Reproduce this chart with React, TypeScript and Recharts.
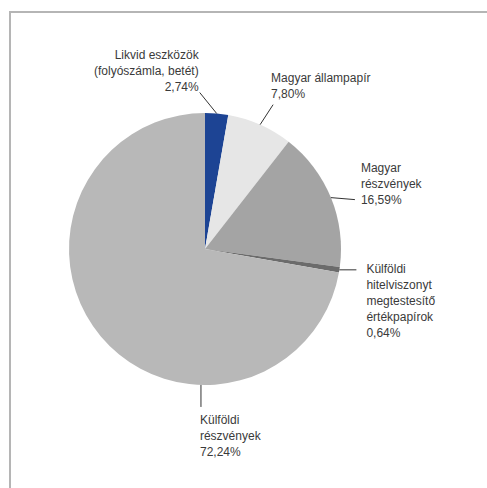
import { PieChart, Pie, Cell } from "recharts";

const names = [
  "Likvid eszközök (folyószámla, betét)",
  "Magyar állampapír",
  "Magyar részvények",
  "Külföldi hitelviszonyt megtestesítő értékpapírok",
  "Külföldi részvények",
];
const values = [2.74, 7.8, 16.59, 0.64, 72.24];
const labelLines = [
  ["Likvid eszközök", "(folyószámla, betét)"],
  ["Magyar állampapír"],
  ["Magyar", "részvények"],
  ["Külföldi", "hitelviszonyt", "megtestesítő", "értékpapírok"],
  ["Külföldi", "részvények"],
];
const COLORS = ["#1d4494", "#e6e6e6", "#a4a4a4", "#6b6b6b", "#b8b8b8"];

// leader line + text placement per slice (relative to the slice edge)
const LAYOUT = [
  { angle: null, ldx: -17, ldy: -21, tdx: -1, tdy: -38, anchor: "end" },
  { angle: null, ldx: 13, ldy: -20, tdx: -2, tdy: -27, anchor: "start" },
  { angle: null, ldx: 24, ldy: 2, tdx: 6, tdy: -32, anchor: "start" },
  { angle: null, ldx: 17, ldy: 0, tdx: 10, tdy: -1, anchor: "start" },
  { angle: 268.3, ldx: 0, ldy: 22, tdx: -1, tdy: 13, anchor: "start" },
];

const data = names.map((name, i) => ({ name, value: values[i] }));
const RADIAN = Math.PI / 180;
const LINE_H = 16;

function renderLabel(props: any) {
  const { cx, cy, midAngle, outerRadius, index } = props;
  const lay = LAYOUT[index];
  const ang = lay.angle ?? midAngle;
  const x0 = cx + outerRadius * Math.cos(-ang * RADIAN);
  const y0 = cy + outerRadius * Math.sin(-ang * RADIAN);
  const x1 = x0 + lay.ldx;
  const y1 = y0 + lay.ldy;
  const lines = [...labelLines[index], values[index].toFixed(2).replace(".", ",") + "%"];
  return (
    <g key={`lbl-${index}`}>
      <line x1={x0} y1={y0} x2={x1} y2={y1} stroke="#333" strokeWidth={1} />
      {lines.map((t, j) => (
        <text
          key={j}
          x={x1 + lay.tdx}
          y={y1 + lay.tdy + j * LINE_H}
          textAnchor={lay.anchor as any}
          dominantBaseline="central"
          fontSize={12}
          fontFamily="'Liberation Sans', Arial, sans-serif"
          fill="#3a3a3a"
        >
          {t}
        </text>
      ))}
    </g>
  );
}

export default function App() {
  return (
    <div style={{ position: "absolute", left: 0, top: 0, width: 487, height: 488, background: "#fff" }}>
      <div
        style={{
          position: "absolute",
          left: 9,
          top: 11,
          width: 490,
          height: 490,
          borderTop: "2px solid #b5b5b5",
          borderLeft: "2px solid #b5b5b5",
        }}
      />
      <PieChart
        width={487}
        height={488}
        margin={{ top: 0, right: 0, bottom: 0, left: 0 }}
        style={{ position: "absolute", left: 0, top: 0 }}
      >
        <Pie
          data={data}
          dataKey="value"
          cx={205}
          cy={249}
          outerRadius={136}
          startAngle={90}
          endAngle={-270}
          stroke="none"
          label={renderLabel}
          labelLine={false}
          isAnimationActive={false}
        >
          {data.map((_, i) => (
            <Cell key={`cell-${i}`} fill={COLORS[i]} />
          ))}
        </Pie>
      </PieChart>
    </div>
  );
}
